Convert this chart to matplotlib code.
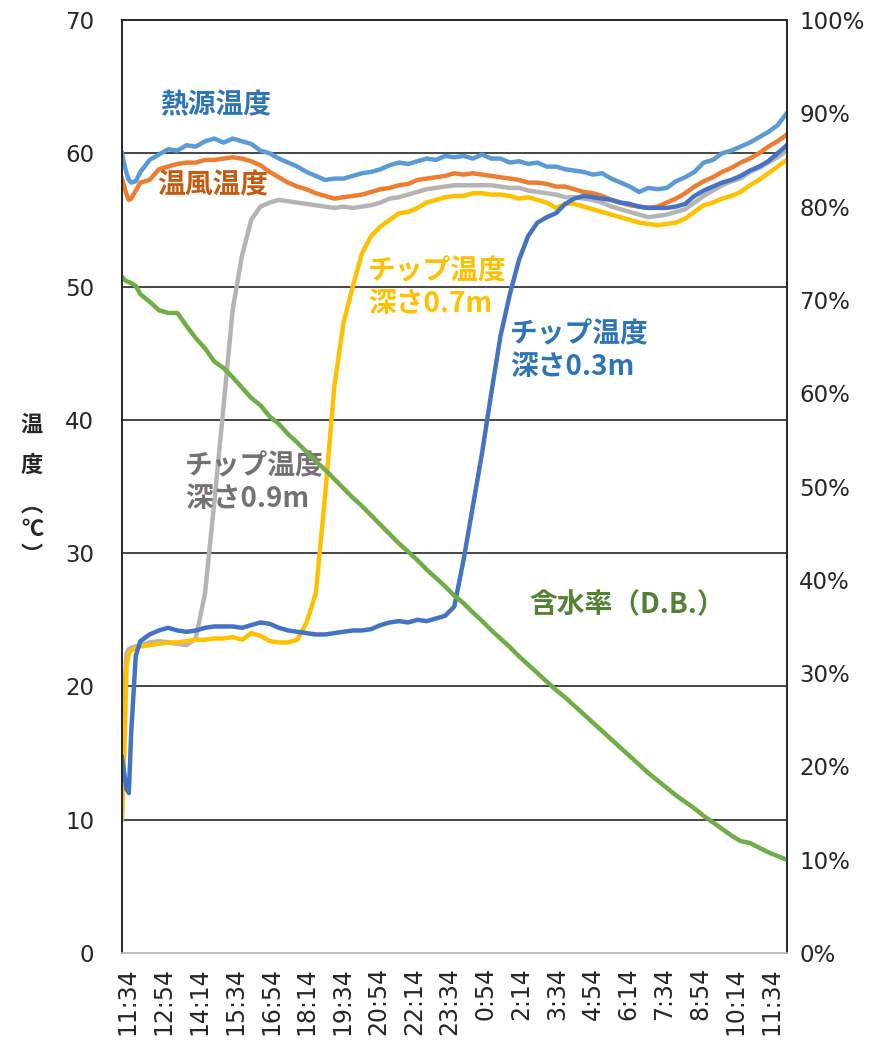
import matplotlib
matplotlib.use("Agg")
import matplotlib.pyplot as plt
import numpy as np

plt.rcParams['font.family'] = ['DejaVu Sans', 'Noto Sans CJK JP']
jp_font = ['Noto Sans CJK JP', 'DejaVu Sans']

# 記録開始からの経過（分）: 最初の40分は細かく、その後20分ごと
elapsed = [0, 5, 10, 15, 20, 30, 40] + list(range(60, 1441, 20))

tick_labels = ['11:34', '12:54', '14:14', '15:34', '16:54', '18:14', '19:34',
               '20:54', '22:14', '23:34', '0:54', '2:14', '3:34', '4:54',
               '6:14', '7:34', '8:54', '10:14', '11:34']

# 熱源温度 (℃)
heat_source = [60.0, 59.2, 58.5, 58.0, 57.8, 57.9, 58.6,
               59.5, 59.9, 60.3, 60.2, 60.6, 60.5, 60.9, 61.1, 60.8, 61.1,
               60.9, 60.7, 60.2, 60.0, 59.6, 59.3, 59.0, 58.6, 58.3, 58.0,
               58.1, 58.1, 58.3, 58.5, 58.6, 58.8, 59.1, 59.3, 59.2, 59.4,
               59.6, 59.5, 59.8, 59.7, 59.8, 59.6, 59.9, 59.6, 59.6, 59.3,
               59.4, 59.2, 59.3, 59.0, 59.0, 58.8, 58.7, 58.6, 58.4, 58.5,
               58.1, 57.8, 57.5, 57.1, 57.4, 57.3, 57.4, 57.9, 58.2, 58.6,
               59.3, 59.5, 60.0, 60.2, 60.5, 60.8, 61.2, 61.6, 62.1, 63.0]

# 温風温度 (℃)
hot_air = [58.1, 57.5, 56.9, 56.5, 56.6, 57.2, 57.8,
           58.0, 58.8, 59.0, 59.2, 59.3, 59.3, 59.5, 59.5, 59.6, 59.7,
           59.6, 59.4, 59.1, 58.6, 58.2, 57.8, 57.5, 57.3, 57.0, 56.8,
           56.6, 56.7, 56.8, 56.9, 57.1, 57.3, 57.4, 57.6, 57.7, 58.0,
           58.1, 58.2, 58.3, 58.5, 58.4, 58.5, 58.4, 58.3, 58.2, 58.1,
           58.0, 57.8, 57.8, 57.7, 57.5, 57.5, 57.3, 57.1, 57.0, 56.8,
           56.5, 56.3, 56.1, 56.0, 55.9, 56.0, 56.3, 56.6, 57.0, 57.5,
           57.9, 58.2, 58.6, 58.9, 59.3, 59.6, 60.0, 60.5, 60.9, 61.4]

# チップ温度 深さ0.9m (℃)
chip_09 = [10.0, 19.5, 22.5, 22.8, 22.9, 23.0, 23.1,
           23.3, 23.4, 23.3, 23.2, 23.1, 23.6, 27.0, 33.8, 41.0, 48.3,
           52.3, 55.0, 56.0, 56.3, 56.5, 56.4, 56.3, 56.2, 56.1, 56.0,
           55.9, 56.0, 55.9, 56.0, 56.1, 56.3, 56.6, 56.7, 56.9, 57.1,
           57.3, 57.4, 57.5, 57.6, 57.6, 57.6, 57.6, 57.6, 57.5, 57.4,
           57.4, 57.2, 57.1, 57.0, 56.9, 56.7, 56.7, 56.6, 56.5, 56.3,
           56.0, 55.8, 55.6, 55.4, 55.2, 55.3, 55.4, 55.6, 55.8, 56.3,
           56.8, 57.2, 57.6, 57.9, 58.1, 58.6, 58.9, 59.3, 59.7, 60.2]

# チップ温度 深さ0.7m (℃)
chip_07 = [10.3, 15.0, 21.5, 22.5, 22.7, 22.9, 23.0,
           23.1, 23.2, 23.3, 23.3, 23.4, 23.5, 23.5, 23.6, 23.6, 23.7,
           23.5, 24.0, 23.8, 23.4, 23.3, 23.3, 23.5, 24.8, 27.0, 34.3,
           42.5, 47.3, 50.0, 52.5, 53.8, 54.5, 55.0, 55.5, 55.6, 55.9,
           56.3, 56.5, 56.7, 56.8, 56.8, 57.0, 57.0, 56.9, 56.9, 56.8,
           56.6, 56.7, 56.5, 56.3, 55.9, 56.2, 56.2, 56.0, 55.8, 55.6,
           55.4, 55.2, 55.0, 54.8, 54.7, 54.6, 54.7, 54.8, 55.1, 55.6,
           56.1, 56.3, 56.6, 56.8, 57.1, 57.6, 58.0, 58.5, 59.0, 59.5]

# チップ温度 深さ0.3m (℃)
chip_03 = [14.7, 13.5, 12.3, 12.0, 16.5, 22.3, 23.4,
           23.9, 24.2, 24.4, 24.2, 24.1, 24.2, 24.4, 24.5, 24.5, 24.5,
           24.4, 24.6, 24.8, 24.7, 24.4, 24.2, 24.1, 24.0, 23.9, 23.9,
           24.0, 24.1, 24.2, 24.2, 24.3, 24.6, 24.8, 24.9, 24.8, 25.0,
           24.9, 25.1, 25.3, 26.0, 29.5, 33.5, 37.5, 42.0, 46.3, 49.4,
           52.0, 53.8, 54.8, 55.2, 55.5, 56.2, 56.6, 56.8, 56.7, 56.6,
           56.5, 56.3, 56.2, 56.0, 55.9, 55.9, 55.9, 56.0, 56.2, 56.8,
           57.2, 57.5, 57.8, 58.0, 58.3, 58.7, 59.0, 59.4, 60.0, 60.6]

# 含水率 D.B. (%)
moisture = [72.5, 72.2, 72.0, 71.9, 71.8, 71.5, 70.6,
            69.8, 68.9, 68.6, 68.6, 67.2, 65.9, 64.8, 63.4, 62.7, 61.7,
            60.6, 59.5, 58.7, 57.5, 56.7, 55.6, 54.7, 53.7, 52.7, 51.8,
            50.8, 49.8, 48.8, 47.9, 46.9, 45.9, 44.9, 43.9, 43.0, 42.1,
            41.1, 40.2, 39.3, 38.3, 37.5, 36.5, 35.6, 34.6, 33.7, 32.8,
            31.8, 30.9, 30.0, 29.1, 28.2, 27.4, 26.5, 25.6, 24.7, 23.8,
            22.9, 22.0, 21.1, 20.2, 19.3, 18.5, 17.7, 16.9, 16.2, 15.5,
            14.7, 14.0, 13.3, 12.6, 12.0, 11.8, 11.3, 10.8, 10.4, 10.0]

fig = plt.figure(figsize=(8.9, 10.51), dpi=100)
ax = fig.add_axes([0.137, 0.0932, 0.747, 0.8878])
ax2 = ax.twinx()

lw = 3.2
ax.plot(elapsed, heat_source, color='#5B9BD5', lw=lw)
ax.plot(elapsed, hot_air, color='#ED7D31', lw=lw)
ax.plot(elapsed, chip_09, color='#B4B4B4', lw=lw)
ax.plot(elapsed, chip_07, color='#FFC000', lw=lw)
ax.plot(elapsed, chip_03, color='#4472C4', lw=lw)
ax2.plot(elapsed, moisture, color='#70AD47', lw=lw)

ax.set_xlim(0, 1440)
ax.set_ylim(0, 70)
ax.set_yticks(range(0, 71, 10))
ax2.set_ylim(0, 100)
ax2.set_yticks(range(0, 101, 10))
ax2.set_yticklabels([f'{v}%' for v in range(0, 101, 10)])

for y in range(10, 71, 10):
    ax.axhline(y, color='#262626', lw=1.2, zorder=0)

# 時刻ラベルは記録開始から少し後に始まる
ax.set_xticks(np.linspace(13, 1407, len(tick_labels)))
ax.set_xticklabels(tick_labels, rotation=90, va='top', ha='center')

for a in (ax, ax2):
    for s in ('left', 'right', 'top'):
        a.spines[s].set_color('#262626')
        a.spines[s].set_linewidth(1.2)
    a.spines['bottom'].set_color('#BFBFBF')
    a.spines['bottom'].set_linewidth(1.2)

ax.tick_params(axis='x', length=0, pad=10, labelsize=17, colors='#262626')
ax.tick_params(axis='y', length=0, pad=20, labelsize=16.5, colors='#262626')
ax2.tick_params(axis='y', length=0, pad=9, labelsize=16.5, colors='#262626')

# 縦書きの軸ラベル（縦書き用の括弧を使う）
ylab = [('温', 425), ('度', 465), ('︵', 505), ('℃', 530), ('︶', 555)]
for ch, ypix in ylab:
    fig.text(32 / 890, 1 - ypix / 1051, ch, family=jp_font, fontsize=16,
             fontweight='bold', ha='center', va='center', color='#262626')

# 系列ラベル
def label(x, y, s, c):
    ax.text(x, y, s, family=jp_font, fontsize=20, fontweight='bold',
            color=c, ha='left', va='center', linespacing=1.2)

label(82, 63.6, '熱源温度', '#2E75B6')
label(76, 57.6, '温風温度', '#C55A11')
label(533, 49.9, 'チップ温度\n深さ0.7m', '#FFC000')
label(840, 45.2, 'チップ温度\n深さ0.3m', '#2E75B6')
label(136, 35.3, 'チップ温度\n深さ0.9m', '#767171')
label(883, 26.1, '含水率（D.B.）', '#548235')

fig.savefig('out.png', dpi=100)
